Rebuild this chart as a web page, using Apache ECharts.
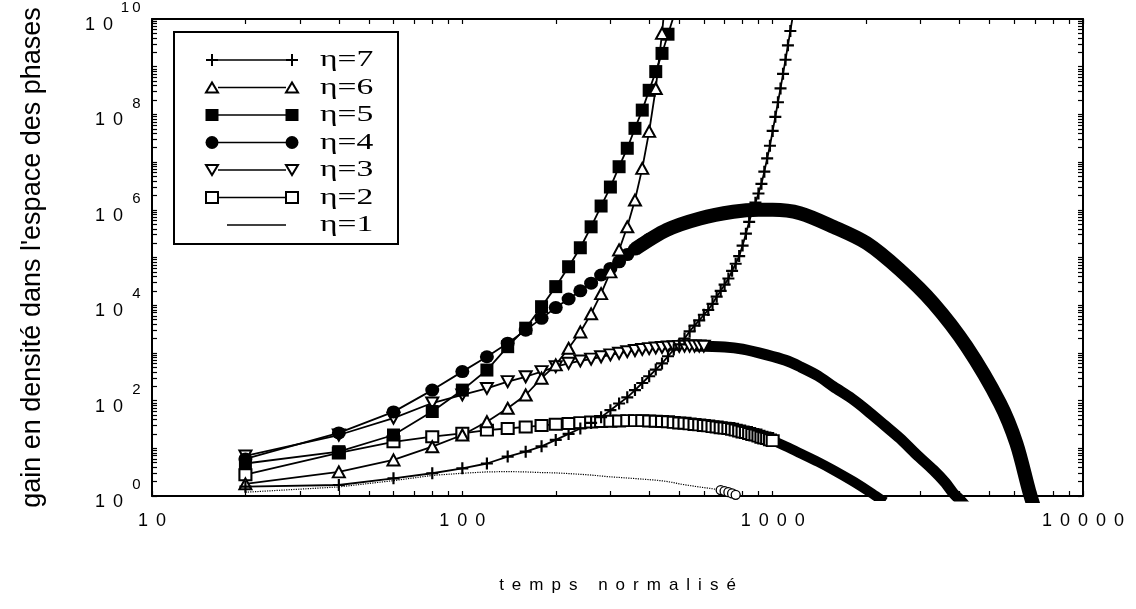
<!DOCTYPE html>
<html>
<head>
<meta charset="utf-8">
<script src="https://cdn.jsdelivr.net/npm/echarts@6/dist/echarts.min.js"></script>
<style>
html,body{margin:0;padding:0;background:#fff;}
#c{width:1136px;height:609px;}
</style>
</head>
<body>
<div id="c"></div>
<script>
// ---------- data ----------
const times = [20,40,60,80,100,120,140,160,180,200,220,240,260,280,300,320,340,360,380,400,
  420,440,460,480,500,520,540,560,580,600,620,640,660,680,700,720,740,760,780,800,
  820,840,860,880,900,920,940,960,980,1000,1020,1040,1060,1080,1100,1120,1140,1160,1180,1200];

const legendNames = ['η=7','η=6','η=5','η=4','η=3','η=2','η=1'];

const eta1 = [1.2,1.55,2.1,2.7,3.0,3.2,3.25,3.2,3.1,3.05,2.95,2.85,2.75,2.62,2.52,2.45,2.38,2.32,2.26,2.2,
  2.15,2.08,2.0,1.9,1.8,1.72,1.66,1.6,1.55,1.5,1.46,1.42,1.37,1.33,1.27,1.2,1.13,1.06,0.99];

const eta2 = [2.8,8.0,13.7,17.5,20.6,24,26,28,30,32,33,34.5,35.5,36.5,37,37.5,38,38,38,37.5,
  37,36.5,36,35,34,33.5,32.5,31.5,31,30,29.5,28.5,28,27,26.5,26,25,24,23,22,
  21.5,20.5,19.5,19,18,17,16.5,16,15,14.5];
const eta2BandT = [900,1000,1100,1225,1400,1570,1800,2010,2150,2300];
const eta2BandV = [18,14.5,11,7.9,5.2,3.5,2.1,1.34,1.0,0.75];

const eta3 = [6.9,19,43,89,132,180,250,316,405,513,605,677,740,830,910,980,1060,1120,1180,1230,
  1270,1300,1330,1350,1370,1380,1390,1390,1390,1380];
const eta3BandT = [560,700,800,957,1100,1225,1400,1570,1800,2010,2300,2570,2900,3295,3600,3820,4000,4200];
const eta3BandV = [1390,1330,1200,910,700,515,330,196,110,63,30,16.2,7.5,3.5,1.9,1.14,0.85,0.6];

const eta4 = [6.0,21,58,166,405,830,1600,3000,5300,8900,13500,20000,29000,43000,59000,81000,115000,150000,190000,240000];
const eta4BandT = [360,456,583,747,900,1000,1225,1570,2010,2570,3295,4220,5400,6100,6700,7000,7300];
const eta4BandV = [1.5e5,3.8e5,6.6e5,9.1e5,1.0e6,1.0e6,8.5e5,4.4e5,2.0e5,5.5e4,1.1e4,1350,88,12.7,1.3,0.5,0.2];

const eta5 = [4.8,8.5,19,59,166,437,1350,3300,9300,2.45e4,6.4e4,1.6e5,4.4e5,1.2e6,3.0e6,8.0e6,1.95e7,5.1e7,1.23e8,3.2e8,
  7.9e8,1.9e9,4.8e9,1.15e10];

const eta6 = [1.8,3.2,5.7,10.8,19,36,69,131,295,560,1250,2750,6600,1.75e4,5.0e4,1.44e5,4.4e5,1.6e6,7.4e6,4.4e7,
  3.5e8,5.0e9,1e11];

const eta7 = [1.57,1.7,2.35,3.0,3.8,4.8,6.7,8.5,11,15,20,26,34,45,63,87,117,166,234,324,
  447,603,851,1175,1510,2000,2820,3720,4790,6310,7940,1.07e4,1.51e4,2.0e4,2.69e4,3.63e4,5.25e4,7.4e4,1.07e5,1.78e5,
  3.16e5,5.6e5,9.5e5,1.41e6,2.2e6,3.5e6,6.3e6,1.2e7,2.2e7,4.5e7,8.9e7,1.8e8,3.5e8,7.1e8,1.4e9,2.8e9,5.6e9,1.1e10];

const xLabelValues = [10,100,1000,10000];
const yLabelValues = [1,1e2,1e4,1e6,1e8,1e10];
const tickMultipliers = [1,2,3,4,5,6,7,8,9];
const xDecades = [10,100,1000];
const yDecades = [1,1e1,1e2,1e3,1e4,1e5,1e6,1e7,1e8,1e9];
const xTitle = 'temps normalisé';
const yTitle = "gain en densité dans l'espace des phases";

// ---------- helpers ----------
const BLACK = '#000';
const pairs = (vals, ts) => vals.map((v, i) => [ts[i], v]);
const ticksFrom = (decs, last) => { const r = []; decs.forEach(d => tickMultipliers.forEach(m => r.push(d * m))); r.push(last); return r; };
const xTicks = ticksFrom(xDecades, 10000);
const yTicks = ticksFrom(yDecades, 1e10);

const PLUS = 'path://M4.5,0h2v4.5h4.5v2h-4.5v4.5h-2v-4.5h-4.5v-2h4.5z';
const DOWN_TRI = 'path://M0,0L10,0L5,9Z';

const spaced = (str, key) => Array.from(str).map(ch => '{' + key + '|' + ch + '}').join('');

const FONT = 'Liberation Sans';
const richY = {
  e: {fontFamily: FONT, fontSize: 15, lineHeight: 12, padding: [0, 1.5, 0, 1.5], color: BLACK},
  b: {fontFamily: FONT, fontSize: 18, lineHeight: 22, padding: [0, 4, 0, 4], color: BLACK},
  bl1: {fontFamily: FONT, fontSize: 18, lineHeight: 22, padding: [0, 19, 0, 4], color: BLACK},
  bl2: {fontFamily: FONT, fontSize: 18, lineHeight: 22, padding: [0, 29, 0, 4], color: BLACK}
};
const richX = {
  dx: {fontFamily: FONT, fontSize: 18, lineHeight: 18, padding: [0, 4, 0, 4], color: BLACK}
};

function yFmt(v) {
  const e = String(Math.round(Math.log10(v)));
  return spaced(e, 'e') + '\n{b|1}{' + (e.length > 1 ? 'bl2' : 'bl1') + '|0}';
}
function xFmt(v) { return spaced(String(Math.round(v)), 'dx'); }

const axisLineStyle = {show: true, onZero: false, lineStyle: {color: BLACK, width: 2}};
const tickStyle = (vals) => ({show: true, inside: true, length: 5, customValues: vals, lineStyle: {color: BLACK, width: 1.2}});

// marker series specs
const markerSpecs = [
  {name: 'η=7', values: eta7, symbol: PLUS, size: 12, fill: BLACK, bw: 0},
  {name: 'η=6', values: eta6, symbol: 'triangle', size: [12, 11], fill: '#fff', bw: 2},
  {name: 'η=5', values: eta5, symbol: 'rect', size: 13, fill: BLACK, bw: 0},
  {name: 'η=4', values: eta4, symbol: 'circle', size: [14, 13], fill: BLACK, bw: 0},
  {name: 'η=3', values: eta3, symbol: DOWN_TRI, size: [12, 11], fill: '#fff', bw: 2},
  {name: 'η=2', values: eta2, symbol: 'rect', size: [12, 11], fill: '#fff', bw: 2}
];
const bandSpecs = [
  {t: eta4BandT, v: eta4BandV, w: 14},
  {t: eta3BandT, v: eta3BandV, w: 11},
  {t: eta2BandT, v: eta2BandV, w: 10}
];

const series = [];
bandSpecs.forEach(b => series.push({
  type: 'line', data: pairs(b.v, b.t), symbol: 'none', smooth: 0.3, silent: true, z: 1,
  lineStyle: {color: BLACK, width: b.w, cap: 'butt', join: 'round'}
}));
series.push({
  type: 'line', name: 'η=1', data: pairs(eta1, times), z: 2,
  symbol: (val) => val[0] >= 680 ? 'circle' : 'none', symbolSize: 9, showSymbol: true,
  itemStyle: {color: '#fff', borderColor: BLACK, borderWidth: 1.3},
  lineStyle: {color: BLACK, width: 1.2, type: 'dotted'}
});
markerSpecs.slice().reverse().forEach(m => series.push({
  type: 'line', name: m.name, data: pairs(m.values, times), z: 3,
  symbol: m.symbol, symbolSize: m.size, showSymbol: true,
  itemStyle: {color: m.fill, borderColor: BLACK, borderWidth: m.bw},
  lineStyle: {color: BLACK, width: 1.8}
}));

// legend drawn as graphic elements
const LB = {left: 174, top: 32, w: 224, h: 212, row0: 28, step: 27.5, mL: 38, mR: 118, tx: 146};
function legendSymbol(kind, cx, cy) {
  const st = {fill: '#fff', stroke: BLACK, lineWidth: 2};
  switch (kind) {
    case 'plus': return [
      {type: 'rect', shape: {x: cx - 6, y: cy - 1, width: 12, height: 2}, style: {fill: BLACK}},
      {type: 'rect', shape: {x: cx - 1, y: cy - 6, width: 2, height: 12}, style: {fill: BLACK}}];
    case 'tri': return [{type: 'polygon', shape: {points: [[cx - 6, cy + 5], [cx + 6, cy + 5], [cx, cy - 5]]}, style: st}];
    case 'sq': return [{type: 'rect', shape: {x: cx - 6.5, y: cy - 6, width: 13, height: 12}, style: {fill: BLACK}}];
    case 'dot': return [{type: 'circle', shape: {cx: cx, cy: cy, r: 6.5}, style: {fill: BLACK}}];
    case 'dtri': return [{type: 'polygon', shape: {points: [[cx - 6, cy - 5], [cx + 6, cy - 5], [cx, cy + 5]]}, style: st}];
    case 'osq': return [{type: 'rect', shape: {x: cx - 6, y: cy - 5.5, width: 12, height: 11}, style: st}];
  }
  return [];
}
const legendKinds = ['plus', 'tri', 'sq', 'dot', 'dtri', 'osq', 'none'];
const graphics = [{type: 'rect', shape: {x: LB.left, y: LB.top, width: LB.w, height: LB.h},
  style: {fill: '#fff', stroke: BLACK, lineWidth: 2}, z: 100}];
legendNames.forEach((name, i) => {
  const cy = LB.top + LB.row0 + i * LB.step;
  const xl = LB.left + LB.mL, xr = LB.left + LB.mR;
  const kind = legendKinds[i];
  if (kind === 'none') {
    graphics.push({type: 'line', shape: {x1: LB.left + 53, y1: cy, x2: LB.left + 112, y2: cy}, style: {stroke: BLACK, lineWidth: 1.5}, z: 101});
  } else {
    graphics.push({type: 'line', shape: {x1: xl + 6, y1: cy, x2: xr - 6, y2: cy}, style: {stroke: BLACK, lineWidth: 1.5}, z: 101});
    legendSymbol(kind, xl, cy).concat(legendSymbol(kind, xr, cy)).forEach(g => { g.z = 102; graphics.push(g); });
  }
  graphics.push({type: 'text', x: LB.left + LB.tx, y: cy, scaleX: 1.4, z: 102,
    style: {text: name, font: '24px "Liberation Serif"', fill: BLACK, verticalAlign: 'middle', align: 'left'}});
});

const chart = echarts.init(document.getElementById('c'), null, {renderer: 'canvas'});
chart.setOption({
  animation: false,
  backgroundColor: '#fff',
  grid: {left: 152, right: 53, top: 19, bottom: 113, containLabel: false, outerBoundsMode: 'none'},
  xAxis: [
    {type: 'log', logBase: 10, min: 10, max: 10000, position: 'bottom',
     axisLine: axisLineStyle, axisTick: tickStyle(xTicks), minorTick: {show: false}, splitLine: {show: false},
     axisLabel: {customValues: xLabelValues, margin: 16, formatter: xFmt, rich: richX},
     name: spaced(xTitle, 'c'), nameLocation: 'middle', nameGap: 81,
     nameTextStyle: {rich: {c: {fontFamily: FONT, fontSize: 17, color: BLACK, padding: [0, 4, 0, 4]}}}},
    {type: 'log', logBase: 10, min: 10, max: 10000, position: 'top',
     axisLine: axisLineStyle, axisTick: tickStyle(xTicks), axisLabel: {show: false}, splitLine: {show: false}}
  ],
  yAxis: [
    {type: 'log', logBase: 10, min: 1, max: 1e10, position: 'left',
     axisLine: axisLineStyle, axisTick: tickStyle(yTicks), minorTick: {show: false}, splitLine: {show: false},
     axisLabel: {customValues: yLabelValues, margin: 10, formatter: yFmt, rich: richY},
     name: yTitle, nameLocation: 'middle', nameRotate: 90, nameGap: 106,
     nameTextStyle: {fontFamily: FONT, fontSize: 27, color: BLACK}},
    {type: 'log', logBase: 10, min: 1, max: 1e10, position: 'right',
     axisLine: axisLineStyle, axisTick: tickStyle(yTicks), axisLabel: {show: false}, splitLine: {show: false}}
  ],
  series: series,
  graphic: graphics
});
</script>
</body>
</html>
